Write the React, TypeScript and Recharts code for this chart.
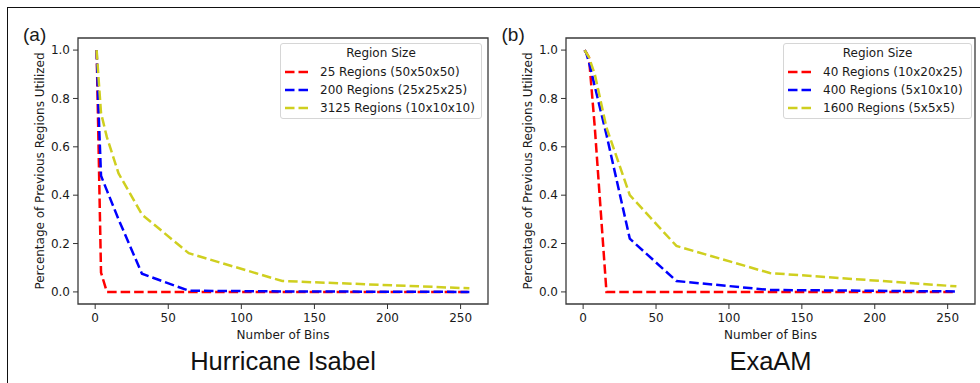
import { LineChart, Line, XAxis, YAxis, Legend, ReferenceArea } from "recharts";

const bins = [1, 2, 4, 8, 16, 32, 64, 128, 256];

// (a) Hurricane Isabel
const isabel25 = [1.0, 0.7, 0.08, 0, 0, 0, 0, 0, 0];
const isabel200 = [1.0, 0.8, 0.48, 0.42, 0.3, 0.075, 0.005, 0.002, 0];
const isabel3125 = [1.0, 0.91, 0.74, 0.64, 0.49, 0.32, 0.16, 0.045, 0.015];
const isabelNames = ["25 Regions (50x50x50)", "200 Regions (25x25x25)", "3125 Regions (10x10x10)"];

// (b) ExaAM
const exaam40 = [1.0, 0.99, 0.97, 0.68, 0, 0, 0, 0, 0];
const exaam400 = [1.0, 0.99, 0.95, 0.85, 0.65, 0.22, 0.045, 0.008, 0.002];
const exaam1600 = [1.0, 0.99, 0.97, 0.9, 0.68, 0.4, 0.19, 0.078, 0.023];
const exaamNames = ["40 Regions (10x20x25)", "400 Regions (5x10x10)", "1600 Regions (5x5x5)"];

const xTicks = [0, 50, 100, 150, 200, 250];
const yTicks = [0, 0.2, 0.4, 0.6, 0.8, 1.0];
const colors = ["#ff0000", "#0000ff", "#cfcf1f"];

const FONT = "'DejaVu Sans', sans-serif";
const INK = "#1a1a1a";
const DASH = "9.5 4";

type PanelProps = {
  left: number;
  letter: string;
  title: string;
  names: string[];
  series: number[][];
  axisWidth: number;
  rightMargin: number;
  legendLeft: number;
  legendWidth: number;
};

function Panel({ left, letter, title, names, series, axisWidth, rightMargin, legendLeft, legendWidth }: PanelProps) {
  const data = bins.map((b, i) => ({
    bins: b,
    s0: series[0][i],
    s1: series[1][i],
    s2: series[2][i],
  }));
  const plotCenter = axisWidth + (490 - axisWidth - rightMargin) / 2;

  const legend = () => (
    <div
      style={{
        width: legendWidth,
        height: 76,
        boxSizing: "border-box",
        border: "1px solid #d6d6d6",
        borderRadius: 3,
        background: "rgba(255,255,255,0.85)",
        fontFamily: FONT,
        fontSize: 12,
        color: INK,
      }}
    >
      <div style={{ height: 19, lineHeight: "19px", textAlign: "center" }}>Region Size</div>
      {names.map((n, i) => (
        <div key={n} style={{ display: "flex", alignItems: "center", height: 18, whiteSpace: "nowrap" }}>
          <svg width={39} height={10} style={{ flex: "none" }}>
            <line x1={4} x2={27} y1={5} y2={5} stroke={colors[i]} strokeWidth={2.5} strokeDasharray={DASH} />
          </svg>
          <span>{n}</span>
        </div>
      ))}
    </div>
  );

  return (
    <div style={{ position: "absolute", left, top: 0, width: 490, height: 383 }}>
      <LineChart width={490} height={383} data={data} margin={{ top: 38, right: rightMargin, bottom: 0, left: 0 }}>
        <XAxis
          type="number"
          dataKey="bins"
          domain={[-11.75, 268.75]}
          ticks={xTicks}
          allowDataOverflow
          axisLine={false}
          tickSize={5}
          tickMargin={4.5}
          tickLine={{ stroke: "#333" }}
          tick={{ fill: INK, fontSize: 12, fontFamily: FONT }}
          height={79}
          label={{
            content: (p: any) => {
              const vb = p.viewBox;
              return (
                <text x={vb.x + vb.width / 2} y={vb.y + 30.5} textAnchor="middle" dominantBaseline="central" fill={INK} fontSize={12} fontFamily={FONT}>
                  Number of Bins
                </text>
              );
            },
          }}
        />
        <YAxis
          type="number"
          domain={[-0.05, 1.05]}
          ticks={yTicks}
          allowDataOverflow
          axisLine={false}
          tickSize={5}
          tickMargin={3}
          tickLine={{ stroke: "#333" }}
          tick={{ fill: INK, fontSize: 12, fontFamily: FONT }}
          tickFormatter={(v: number) => v.toFixed(1)}
          width={axisWidth}
          label={{
            content: (p: any) => {
              const vb = p.viewBox;
              const cx = vb.x + vb.width - 38.5;
              const cy = vb.y + vb.height / 2;
              return (
                <text x={cx} y={cy} transform={`rotate(-90 ${cx} ${cy})`} textAnchor="middle" dominantBaseline="central" fill={INK} fontSize={12} fontFamily={FONT}>
                  Percentage of Previous Regions Utilized
                </text>
              );
            },
          }}
        />
        <ReferenceArea x1={-11.75} x2={268.75} y1={-0.05} y2={1.05} fill="none" stroke="#3a3a3a" strokeWidth={1.3} ifOverflow="visible" />
        {[0, 1, 2].map((i) => (
          <Line
            key={i}
            type="linear"
            dataKey={`s${i}`}
            name={names[i]}
            stroke={colors[i]}
            strokeWidth={2.5}
            strokeDasharray={DASH}
            dot={false}
            activeDot={false}
            isAnimationActive={false}
          />
        ))}
        <Legend
          layout="vertical"
          align="center"
          verticalAlign="middle"
          content={legend}
          wrapperStyle={{ top: 43, left: legendLeft, width: legendWidth, height: 76 }}
        />
      </LineChart>
      <div
        style={{
          position: "absolute",
          left: left === 0 ? 23 : 11.5,
          top: 24,
          fontFamily: "'Liberation Sans', Arial, sans-serif",
          fontSize: 19,
          color: INK,
          lineHeight: "22px",
        }}
      >
        {letter}
      </div>
      <div
        style={{
          position: "absolute",
          left: plotCenter - 150,
          width: 300,
          top: 346,
          textAlign: "center",
          fontFamily: "'Liberation Sans', Arial, sans-serif",
          fontSize: 25.5,
          lineHeight: "30px",
          color: "#111",
        }}
      >
        {title}
      </div>
    </div>
  );
}

export default function App() {
  return (
    <div style={{ position: "absolute", left: 0, top: 0, width: 980, height: 383, background: "#fff", overflow: "hidden" }}>
      <Panel
        left={0}
        letter="(a)"
        title="Hurricane Isabel"
        names={isabelNames}
        series={[isabel25, isabel200, isabel3125]}
        axisWidth={78}
        rightMargin={2}
        legendLeft={280}
        legendWidth={202}
      />
      <Panel
        left={490}
        letter="(b)"
        title="ExaAM"
        names={exaamNames}
        series={[exaam40, exaam400, exaam1600]}
        axisWidth={76}
        rightMargin={5}
        legendLeft={293}
        legendWidth={189}
      />
      <div
        style={{
          position: "absolute",
          left: 7,
          top: 7,
          width: 1000,
          height: 400,
          borderTop: "1.6px solid #111",
          borderLeft: "1.6px solid #111",
          pointerEvents: "none",
        }}
      />
    </div>
  );
}
